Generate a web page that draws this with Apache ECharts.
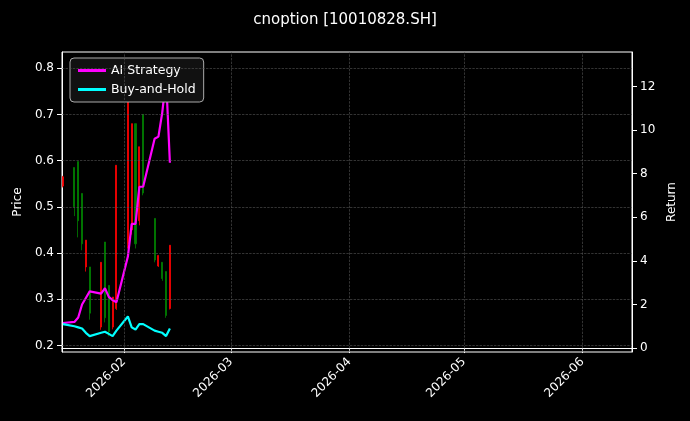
<!DOCTYPE html>
<html>
<head>
<meta charset="utf-8">
<script src="https://cdn.jsdelivr.net/npm/echarts@6/dist/echarts.min.js"></script>
<style>
  html, body { margin: 0; padding: 0; background: #000; }
  #chart { width: 690px; height: 421px; }
</style>
</head>
<body>
<div id="chart"></div>
<script>
// trading days
const dates = ['2026-01-16', '2026-01-19', '2026-01-20', '2026-01-21', '2026-01-22', '2026-01-23',
  '2026-01-26', '2026-01-27', '2026-01-28', '2026-01-29', '2026-01-30',
  '2026-02-02', '2026-02-03', '2026-02-04', '2026-02-05', '2026-02-06',
  '2026-02-09', '2026-02-10', '2026-02-11', '2026-02-12', '2026-02-13'];
// open, close, low, high
const candles = [
  [0.545, 0.565, 0.542, 0.567],
  [0.585, 0.50, 0.48, 0.585],
  [0.598, 0.47, 0.434, 0.598],
  [0.529, 0.42, 0.406, 0.529],
  [0.37, 0.428, 0.36, 0.428],
  [0.37, 0.27, 0.256, 0.37],
  [0.24, 0.38, 0.234, 0.38],
  [0.424, 0.26, 0.25, 0.424],
  [0.33, 0.23, 0.22, 0.33],
  [0.24, 0.305, 0.235, 0.305],
  [0.28, 0.59, 0.277, 0.59],
  [0.42, 0.74, 0.41, 0.74],
  [0.45, 0.68, 0.44, 0.68],
  [0.68, 0.42, 0.41, 0.68],
  [0.47, 0.63, 0.46, 0.63],
  [0.70, 0.53, 0.525, 0.70],
  [0.475, 0.385, 0.38, 0.475],
  [0.372, 0.395, 0.37, 0.395],
  [0.38, 0.345, 0.34, 0.38],
  [0.36, 0.265, 0.26, 0.36],
  [0.28, 0.417, 0.278, 0.417]
];
const aiReturn = [1.15, 1.2, 1.4, 2.0, 2.3, 2.6, 2.5, 2.75, 2.35, 2.2, 2.1,
  4.2, 5.7, 5.7, 7.4, 7.4, 9.6, 9.7, 10.8, 12.4, 8.5];
const holdReturn = [1.1, 1.0, 0.95, 0.9, 0.7, 0.55, 0.7, 0.75, 0.65, 0.55, 0.8,
  1.45, 0.95, 0.85, 1.1, 1.1, 0.8, 0.75, 0.7, 0.55, 0.9];
const monthTicks = ['2026-02-01', '2026-03-01', '2026-04-01', '2026-05-01', '2026-06-01'];
const priceTicks = [0.2, 0.3, 0.4, 0.5, 0.6, 0.7, 0.8];
const returnTicks = [0, 2, 4, 6, 8, 10, 12];

const chart = echarts.init(document.getElementById('chart'));
const t = d => new Date(d + 'T00:00:00Z').getTime();
const white = '#ffffff';
const gridStyle = { color: '#555', type: 'dashed', width: 0.6 };
const font = 'DejaVu Sans';

chart.setOption({
  backgroundColor: '#000',
  animation: false,
  textStyle: { fontFamily: font },
  title: {
    text: 'cnoption [10010828.SH]', left: 'center', top: 8,
    textStyle: { color: white, fontSize: 15, fontWeight: 'normal', fontFamily: font }
  },
  legend: {
    left: 70, top: 58, orient: 'vertical', itemGap: 6,
    backgroundColor: '#111', borderColor: '#aaa', borderWidth: 1, borderRadius: 4,
    padding: [6, 8],
    itemWidth: 28, itemHeight: 3,
    textStyle: { color: white, fontSize: 12.5, fontFamily: font },
    data: [{ name: 'AI Strategy', icon: 'rect' }, { name: 'Buy-and-Hold', icon: 'rect' }]
  },
  grid: { left: 62, right: 58, top: 52, bottom: 69, show: true, borderColor: white, borderWidth: 1 },
  xAxis: {
    type: 'value',
    min: t('2026-01-16') - 6 * 3600e3,
    max: t('2026-06-14'),
    axisLine: { lineStyle: { color: white } },
    axisTick: { customValues: monthTicks.map(t), lineStyle: { color: white } },
    axisLabel: {
      customValues: monthTicks.map(t), rotate: 45, color: white, fontSize: 12, fontFamily: font,
      formatter: v => { const d = new Date(v); return d.getUTCFullYear() + '-' + String(d.getUTCMonth() + 1).padStart(2, '0'); }
    },
    splitLine: { show: false }
  },
  yAxis: [
    {
      type: 'value', min: 0.186, max: 0.835, position: 'left',
      name: 'Price', nameLocation: 'middle', nameGap: 38, nameRotate: 90,
      nameTextStyle: { color: white, fontSize: 12, fontFamily: font },
      axisLine: { show: true, lineStyle: { color: white } },
      axisTick: { show: true, customValues: priceTicks, lineStyle: { color: white } },
      axisLabel: { customValues: priceTicks, color: white, fontSize: 12, fontFamily: font, formatter: v => v.toFixed(1) },
      splitLine: { show: false }
    },
    {
      type: 'value', min: -0.18, max: 13.58, position: 'right',
      name: 'Return', nameLocation: 'middle', nameGap: 32, nameRotate: 90,
      nameTextStyle: { color: white, fontSize: 12, fontFamily: font },
      axisLine: { show: true, lineStyle: { color: white } },
      axisTick: { show: true, customValues: returnTicks, lineStyle: { color: white } },
      axisLabel: { customValues: returnTicks, color: white, fontSize: 12, fontFamily: font },
      splitLine: { show: false }
    }
  ],
  series: [
    // dashed grid lines
    {
      type: 'line', data: [], silent: true,
      markLine: {
        symbol: 'none', silent: true, label: { show: false },
        lineStyle: gridStyle,
        data: priceTicks.map(v => ({ yAxis: v })).concat(monthTicks.map(d => ({ xAxis: t(d) })))
      }
    },
    {
      type: 'candlestick', name: 'Price', barWidth: 1.6,
      data: dates.map((d, i) => [t(d)].concat(candles[i])),
      encode: { x: 0, y: [1, 2, 3, 4] },
      itemStyle: { color: '#ff0000', color0: '#008000', borderColor: '#ff0000', borderColor0: '#008000', borderWidth: 0.8 }
    },
    {
      type: 'line', name: 'AI Strategy', yAxisIndex: 1, showSymbol: false,
      data: dates.map((d, i) => [t(d), aiReturn[i]]),
      lineStyle: { color: '#ff00ff', width: 2.2 }, itemStyle: { color: '#ff00ff' }
    },
    {
      type: 'line', name: 'Buy-and-Hold', yAxisIndex: 1, showSymbol: false,
      data: dates.map((d, i) => [t(d), holdReturn[i]]),
      lineStyle: { color: '#00ffff', width: 2.2 }, itemStyle: { color: '#00ffff' }
    }
  ]
});
</script>
</body>
</html>
